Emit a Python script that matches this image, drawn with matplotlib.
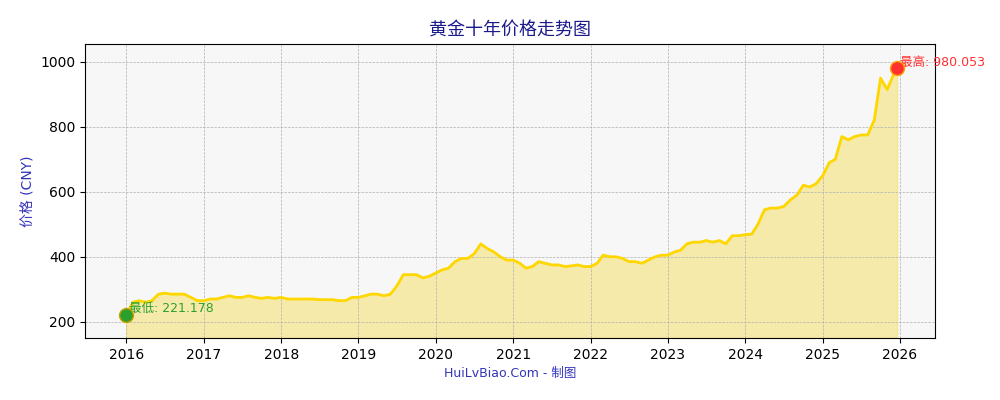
import numpy as np
import pandas as pd
import matplotlib
matplotlib.use("Agg")
import matplotlib.pyplot as plt

plt.rcParams['font.family'] = ['DejaVu Sans', 'Noto Sans CJK SC']

prices = [
    221, 260, 265, 260, 265, 285, 288, 285, 285, 285, 275, 265,
    265, 270, 270, 275, 280, 275, 275, 280, 275, 272, 275, 272,
    275, 270, 270, 270, 270, 270, 268, 268, 268, 265, 265, 275,
    275, 280, 285, 285, 280, 285, 310, 345, 345, 345, 335, 340,
    350, 360, 365, 385, 395, 395, 410, 440, 425, 415, 400, 390,
    390, 380, 365, 370, 385, 380, 375, 375, 370, 372, 375, 370,
    370, 380, 405, 400, 400, 395, 385, 385, 380, 390, 400, 405,
    405, 415, 420, 440, 445, 445, 450, 445, 450, 440, 465, 465,
    468, 470, 500, 545, 550, 550, 555, 575, 590, 620, 615, 625,
    650, 690, 700, 770, 760, 770, 775, 775, 820, 950, 915, 960, 980.053,
]
prices[0] = 221.178
dates = pd.date_range("2016-01-01", periods=len(prices), freq="MS")
dates = dates.where(dates < pd.Timestamp("2026-01-01"), pd.Timestamp("2025-12-18"))

fig, ax = plt.subplots(figsize=(10, 4), dpi=100)
ax.set_facecolor('#f7f7f7')
ax.plot(dates, prices, color='#ffd700', lw=2)
ax.fill_between(dates, prices, 150, color='#f5dc50', alpha=0.45)

imin = int(np.argmin(prices))
imax = int(np.argmax(prices))
ax.scatter(dates[imin], prices[imin], s=100, color='#2ca02c', edgecolor='#c8a000', zorder=5)
ax.scatter(dates[imax], prices[imax], s=100, color='#ff3030', edgecolor='#ffa000', zorder=5)
ax.annotate(f"最低: {prices[imin]:.3f}", (dates[imin], prices[imin]), xytext=(2, 2),
            textcoords='offset points', color='#2ca02c', fontsize=9)
ax.annotate(f"最高: {prices[imax]:.3f}", (dates[imax], prices[imax]), xytext=(2, 2),
            textcoords='offset points', color='#ff3030', fontsize=9)

ax.set_ylim(150, 1055)
ax.set_xlim(pd.Timestamp("2015-06-20"), pd.Timestamp("2026-06-15"))
ax.set_xticks(pd.date_range("2016-01-01", "2026-01-01", freq="YS"))
ax.set_xticklabels([str(y) for y in range(2016, 2027)])
ax.grid(True, ls='--', lw=0.5, color='#b0b0b0')
ax.set_title("黄金十年价格走势图", color='#1a1a8c', fontsize=13)
ax.set_ylabel("价格 (CNY)", color='#3333bb')
ax.set_xlabel("HuiLvBiao.Com - 制图", color='#3333bb', fontsize=9)

plt.subplots_adjust(left=0.085, right=0.935, top=0.89, bottom=0.155)
plt.savefig("out.png")
